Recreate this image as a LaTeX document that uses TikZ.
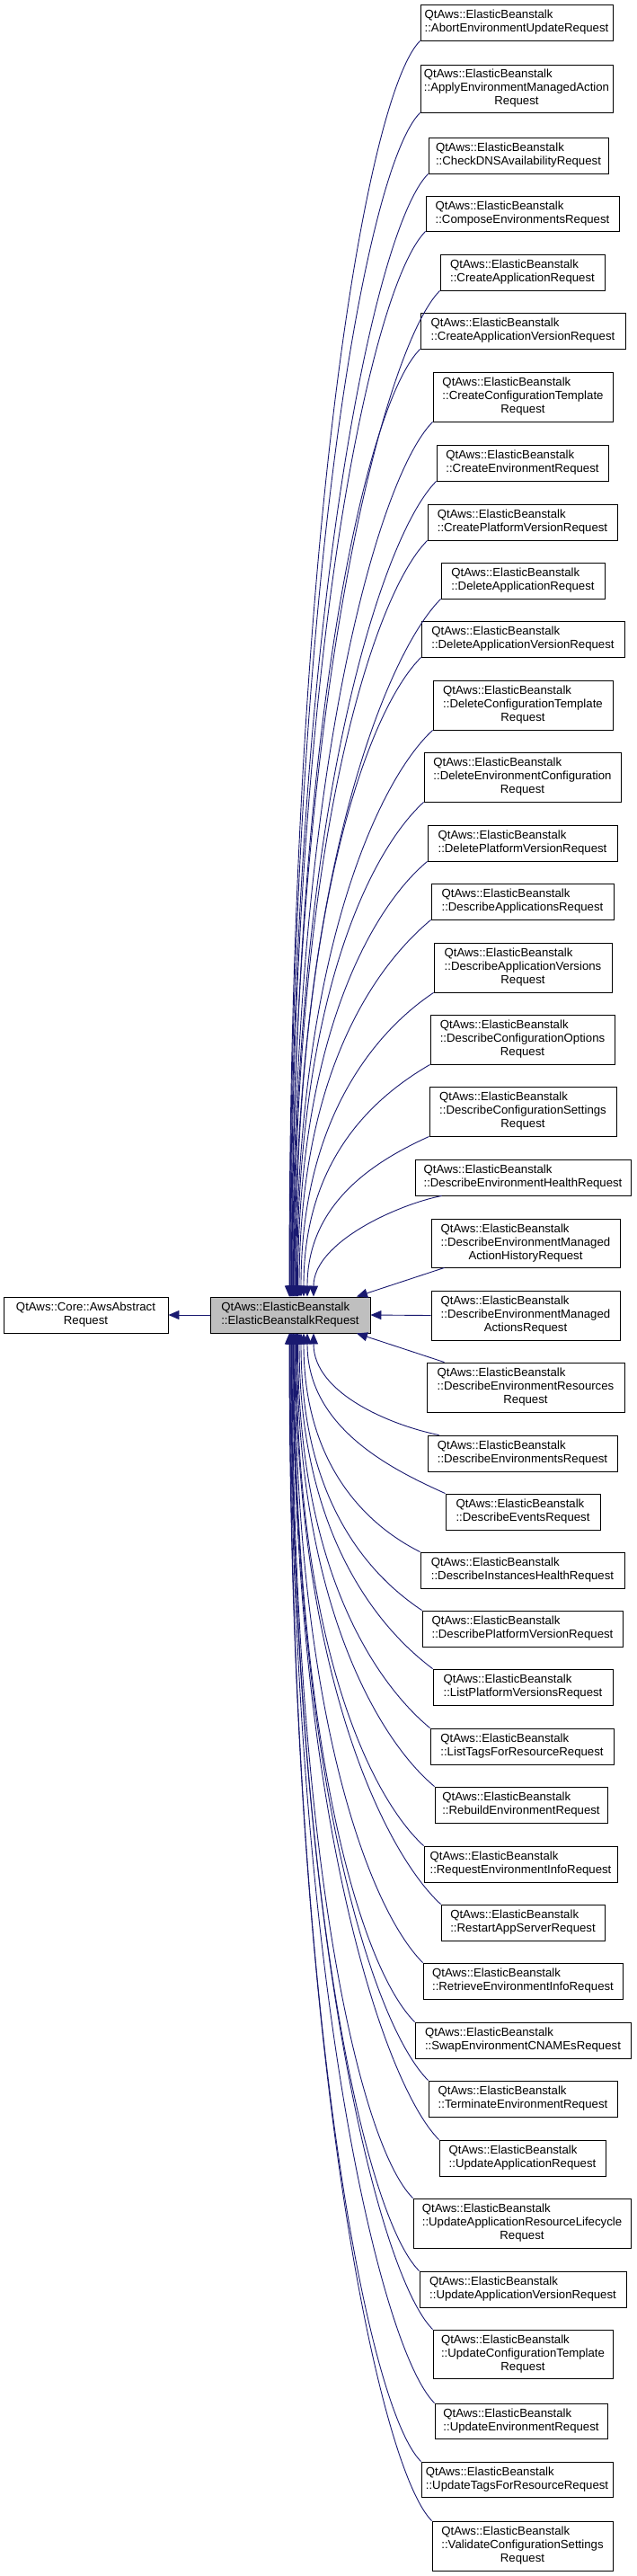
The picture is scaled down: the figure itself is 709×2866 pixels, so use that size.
\documentclass[tikz,border=0pt]{standalone}
\usepackage{fontspec}
\setmainfont{Liberation Sans}
\usetikzlibrary{arrows.meta}
\definecolor{midblue}{HTML}{191970}
\definecolor{cengray}{HTML}{BFBFBF}
\newcommand\twol[2]{\begin{tabular}{@{}l@{}}#1\\\multicolumn{1}{@{}c@{}}{#2}\end{tabular}}
\newcommand\threel[3]{\begin{tabular}{@{}l@{}}#1\\#2\\\multicolumn{1}{@{}c@{}}{#3}\end{tabular}}
\newcommand\eb[1]{\twol{QtAws::ElasticBeanstalk}{#1}}
\newcommand\ebb[2]{\threel{QtAws::ElasticBeanstalk}{#1}{#2}}
\newcommand\klass[6]{\node[cbox,minimum width={#4-#2},minimum height={#5-#3}] (#1) at ({(#2+#4)/2},{(#3+#5)/2}) {#6};}
\newcommand\upE[6]{\draw[inh] ([xshift=#2pt]cen.north) .. controls +(0,-#3) and +(#4,#5) .. ([xshift=#6pt]#1.south west);}
\newcommand\downE[6]{\draw[inh] ([xshift=#2pt]cen.south) .. controls +(0,#3) and +(#4,#5) .. ([xshift=#6pt]#1.north west);}
\begin{document}
\begin{tikzpicture}[x=1pt,y=-1pt,
  cbox/.style={draw=black,line width=0.9pt,fill=white,inner xsep=2pt,inner ysep=1pt,
    font=\fontsize{13.2}{15}\selectfont,anchor=center},
  inh/.style={draw=midblue,line width=0.9pt,{Triangle[length=12pt,width=10pt]}-}]
\fill[white] (0,0) rectangle (709,2866);
\useasboundingbox (0,0) rectangle (709,2866);
% central and base
\klass{base}{4}{1443}{187}{1483}{\twol{QtAws::Core::AwsAbstract}{Request}}
\node[cbox,fill=cengray,minimum width=178,minimum height=40] (cen) at (323,1463) {\twol{QtAws::ElasticBeanstalk}{::ElasticBeanstalkRequest}};
% children
\klass{n1}{468}{5}{682}{45}{\eb{::AbortEnvironmentUpdateRequest}}
\klass{n2}{468}{72}{682}{125}{\ebb{::ApplyEnvironmentManagedAction}{Request}}
\klass{n3}{477}{153}{677}{193}{\eb{::CheckDNSAvailabilityRequest}}
\klass{n4}{474}{218}{689}{257}{\eb{::ComposeEnvironmentsRequest}}
\klass{n5}{490}{283}{673}{323}{\eb{::CreateApplicationRequest}}
\klass{n6}{468}{348}{696}{388}{\eb{::CreateApplicationVersionRequest}}
\klass{n7}{482}{414}{682}{469}{\ebb{::CreateConfigurationTemplate}{Request}}
\klass{n8}{486}{495}{677}{535}{\eb{::CreateEnvironmentRequest}}
\klass{n9}{476}{561}{687}{601}{\eb{::CreatePlatformVersionRequest}}
\klass{n10}{491}{626}{673}{666}{\eb{::DeleteApplicationRequest}}
\klass{n11}{469}{691}{695}{731}{\eb{::DeleteApplicationVersionRequest}}
\klass{n12}{482}{757}{682}{812}{\ebb{::DeleteConfigurationTemplate}{Request}}
\klass{n13}{472}{837}{691}{892}{\ebb{::DeleteEnvironmentConfiguration}{Request}}
\klass{n14}{476}{918}{687}{958}{\eb{::DeletePlatformVersionRequest}}
\klass{n15}{480}{983}{683}{1023}{\eb{::DescribeApplicationsRequest}}
\klass{n16}{483}{1049}{681}{1104}{\ebb{::DescribeApplicationVersions}{Request}}
\klass{n17}{479}{1129}{684}{1184}{\ebb{::DescribeConfigurationOptions}{Request}}
\klass{n18}{478}{1209}{686}{1264}{\ebb{::DescribeConfigurationSettings}{Request}}
\klass{n19}{462}{1290}{702}{1330}{\eb{::DescribeEnvironmentHealthRequest}}
\klass{n20}{480}{1356}{690}{1410}{\ebb{::DescribeEnvironmentManaged}{ActionHistoryRequest}}
\klass{n21}{480}{1436}{690}{1491}{\ebb{::DescribeEnvironmentManaged}{ActionsRequest}}
\klass{n22}{475}{1516}{695}{1571}{\ebb{::DescribeEnvironmentResources}{Request}}
\klass{n23}{476}{1597}{687}{1637}{\eb{::DescribeEnvironmentsRequest}}
\klass{n24}{496}{1662}{668}{1702}{\eb{::DescribeEventsRequest}}
\klass{n25}{468}{1727}{695}{1767}{\eb{::DescribeInstancesHealthRequest}}
\klass{n26}{470}{1792}{693}{1832}{\eb{::DescribePlatformVersionRequest}}
\klass{n27}{482}{1857}{682}{1897}{\eb{::ListPlatformVersionsRequest}}
\klass{n28}{479}{1923}{683}{1963}{\eb{::ListTagsForResourceRequest}}
\klass{n29}{484}{1988}{676}{2028}{\eb{::RebuildEnvironmentRequest}}
\klass{n30}{472}{2054}{687}{2094}{\eb{::RequestEnvironmentInfoRequest}}
\klass{n31}{491}{2119}{673}{2159}{\eb{::RestartAppServerRequest}}
\klass{n32}{471}{2184}{693}{2224}{\eb{::RetrieveEnvironmentInfoRequest}}
\klass{n33}{462}{2250}{702}{2290}{\eb{::SwapEnvironmentCNAMEsRequest}}
\klass{n34}{477}{2315}{687}{2355}{\eb{::TerminateEnvironmentRequest}}
\klass{n35}{489}{2381}{674}{2421}{\eb{::UpdateApplicationRequest}}
\klass{n36}{460}{2446}{702}{2501}{\ebb{::UpdateApplicationResourceLifecycle}{Request}}
\klass{n37}{467}{2527}{697}{2567}{\eb{::UpdateApplicationVersionRequest}}
\klass{n38}{482}{2592}{682}{2646}{\ebb{::UpdateConfigurationTemplate}{Request}}
\klass{n39}{484}{2674}{676}{2713}{\eb{::UpdateEnvironmentRequest}}
\klass{n40}{469}{2739}{682}{2778}{\eb{::UpdateTagsForResourceRequest}}
\klass{n41}{481}{2805}{682}{2860}{\ebb{::ValidateConfigurationSettings}{Request}}
% edges
\draw[inh] (base.east) -- (cen.west);
\upE{n1}{-1}{839}{-60}{60}{0}
\upE{n2}{-0.5}{791}{-60}{60}{0}
\upE{n3}{0}{750}{-60}{60}{0}
\upE{n4}{0.7}{712}{-60}{60}{0}
\upE{n5}{1.4}{672}{-60}{60}{0}
\upE{n6}{2.1}{633}{-60}{60}{0}
\upE{n7}{2.8}{584}{-60}{60}{0}
\upE{n8}{3.5}{545}{-60}{60}{0}
\upE{n9}{4.2}{505}{-60}{60}{0}
\upE{n10}{5}{466}{-60}{60}{0}
\upE{n11}{5.8}{427}{-60}{60}{0}
\upE{n12}{6.6}{379}{-60}{55}{0}
\upE{n13}{7.5}{331}{-60}{55}{0}
\upE{n14}{8.5}{291}{-60}{50}{0}
\upE{n15}{10}{252}{-60}{50}{0}
\upE{n16}{12}{203}{-60}{40}{0}
\upE{n17}{15}{155}{-60}{35}{0}
\upE{n18}{19}{107}{-55}{25}{0}
\upE{n19}{26}{60}{-50}{10}{30}
\draw[inh] ([xshift=74pt]cen.north) -- ([xshift=15pt]n20.south west);
\draw[inh] (cen.east) -- (n21.west);
\draw[inh] ([xshift=74pt]cen.south) -- ([xshift=20pt]n22.north west);
\downE{n23}{26}{68}{-50}{-10}{13}
\downE{n24}{19}{107}{-55}{-25}{0}
\downE{n25}{15}{146}{-60}{-30}{0}
\downE{n26}{12}{185}{-60}{-40}{0}
\downE{n27}{10}{224}{-60}{-45}{0}
\downE{n28}{8.5}{264}{-60}{-50}{0}
\downE{n29}{7.5}{303}{-60}{-50}{0}
\downE{n30}{6.6}{343}{-60}{-55}{0}
\downE{n31}{5.8}{382}{-60}{-55}{0}
\downE{n32}{5}{421}{-60}{-60}{0}
\downE{n33}{4.2}{460}{-60}{-60}{0}
\downE{n34}{3.5}{499}{-60}{-60}{0}
\downE{n35}{2.8}{539}{-60}{-60}{0}
\downE{n36}{2.1}{578}{-60}{-60}{0}
\downE{n37}{1.4}{626}{-60}{-60}{0}
\downE{n38}{0.7}{665}{-60}{-60}{0}
\downE{n39}{0}{715}{-60}{-60}{0}
\downE{n40}{-0.5}{754}{-60}{-60}{0}
\downE{n41}{-1}{793}{-60}{-60}{0}
\end{tikzpicture}
\end{document}
